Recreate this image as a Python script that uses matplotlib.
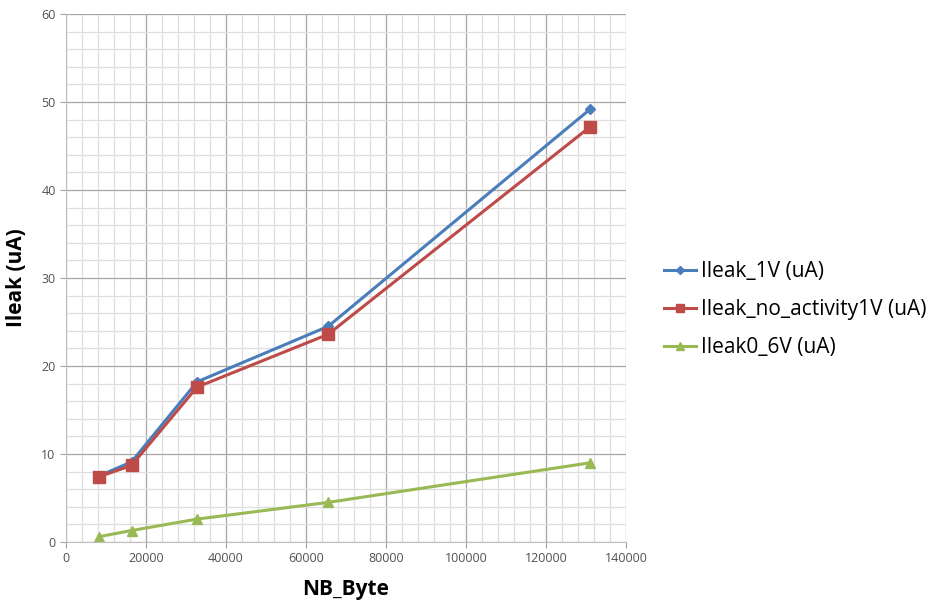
import numpy as np
import matplotlib
matplotlib.use("Agg")
import matplotlib.pyplot as plt
from matplotlib.ticker import MultipleLocator

plt.rcParams['font.family'] = ['Open Sans', 'DejaVu Sans']

# data
nb_byte = [8192, 16384, 32768, 65536, 131072]
ileak_1v = [7.5, 9.1, 18.2, 24.5, 49.2]
ileak_noact_1v = [7.4, 8.7, 17.6, 23.6, 47.2]
ileak0_6v = [0.6, 1.3, 2.6, 4.5, 9.0]
labels = ["Ileak_1V (uA)", "Ileak_no_activity1V (uA)", "Ileak0_6V (uA)"]

fig = plt.figure(figsize=(9.32, 6.03), dpi=100)
ax = fig.add_axes([0.0708, 0.1012, 0.6009, 0.8756])

ax.plot(nb_byte, ileak_1v, color='#4a7ebb', marker='D', markersize=5, lw=2.2, label=labels[0])
ax.plot(nb_byte, ileak_noact_1v, color='#be4b48', marker='s', markersize=8, lw=2.2, label=labels[1])
ax.plot(nb_byte, ileak0_6v, color='#98b954', marker='^', markersize=7, lw=2.2, label=labels[2])

ax.set_xlim(0, 140000)
ax.set_ylim(0, 60)
ax.xaxis.set_major_locator(MultipleLocator(20000))
ax.xaxis.set_minor_locator(MultipleLocator(4000))
ax.yaxis.set_major_locator(MultipleLocator(10))
ax.yaxis.set_minor_locator(MultipleLocator(2))
ax.grid(which='major', color='#a6a6a6', lw=0.9)
ax.grid(which='minor', color='#dedede', lw=0.9)
ax.set_axisbelow(True)
for s in ax.spines.values():
    s.set_color('#bfbfbf')
ax.spines['top'].set_visible(False)
ax.spines['right'].set_visible(False)
ax.tick_params(which='major', length=4, color='#a0a0a0', labelsize=9, labelcolor='#505050')
ax.tick_params(which='minor', length=0)

ax.set_xlabel("NB_Byte", fontsize=15, fontweight='bold', labelpad=10)
ax.set_ylabel("Ileak (uA)", fontsize=15, fontweight='bold', labelpad=10)

ax.legend(loc='center left', bbox_to_anchor=(1.035, 0.44), frameon=False, fontsize=15,
          handlelength=1.5, handletextpad=0.25, labelspacing=0.8, markerscale=0.8)

fig.savefig("out.png", dpi=100)
